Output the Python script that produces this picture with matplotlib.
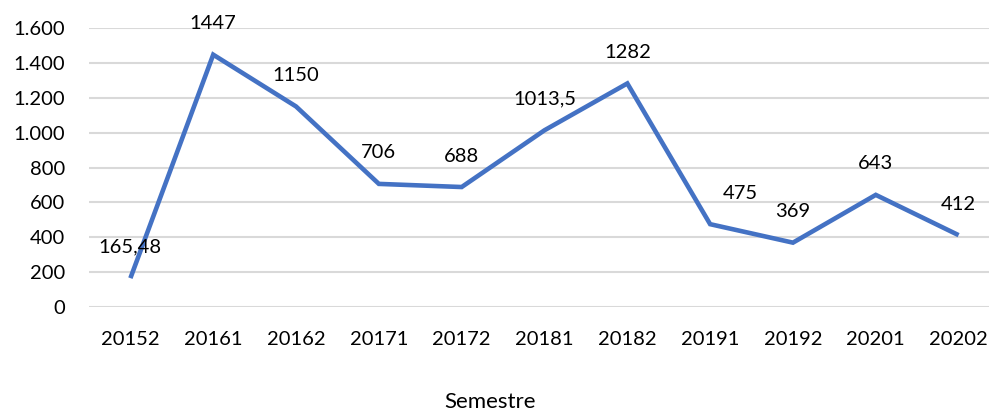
import matplotlib.pyplot as plt

semesters = ['20152', '20161', '20162', '20171', '20172', '20181',
             '20182', '20191', '20192', '20201', '20202']
values = [165.48, 1447, 1150, 706, 688, 1013.5, 1282, 475, 369, 643, 412]
labels = ['165,48', '1447', '1150', '706', '688', '1013,5',
          '1282', '475', '369', '643', '412']
yticks = [0, 200, 400, 600, 800, 1000, 1200, 1400, 1600]

plt.rcParams['font.family'] = ['Lato', 'DejaVu Sans']

fig = plt.figure(figsize=(9.89, 4.15), dpi=100)
ax = fig.add_axes([89 / 989, 108 / 415, 911 / 989, 279 / 415])

x = list(range(len(semesters)))
ax.plot(x, values, color='#4472C4', linewidth=3.3, solid_capstyle='butt',
        solid_joinstyle='miter', zorder=3)

for i, (v, lab) in enumerate(zip(values, labels)):
    dx = 30 if lab == '475' else 0
    ax.annotate(lab, (i, v), xytext=(dx, 31), textcoords='offset pixels',
                ha='center', va='center', fontsize=14.5, color='#000000')

ax.set_xlim(-0.5, len(semesters) - 0.5)
ax.set_ylim(0, 1600)
ax.set_yticks(yticks)
ax.set_yticklabels([f'{t:,}'.replace(',', '.') for t in yticks])
ax.set_xticks(x)
ax.set_xticklabels(semesters)
ax.tick_params(axis='both', length=0, labelsize=14.5, colors='#000000')
ax.tick_params(axis='x', pad=17)
ax.tick_params(axis='y', pad=17)
ax.grid(axis='y', color='#D9D9D9', linewidth=1.5)
ax.set_axisbelow(True)
for s in ax.spines.values():
    s.set_visible(False)

fig.text(490 / 989, 3 / 415, 'Semestre', ha='center', va='bottom', fontsize=16)

fig.savefig('out.png', dpi=100)
